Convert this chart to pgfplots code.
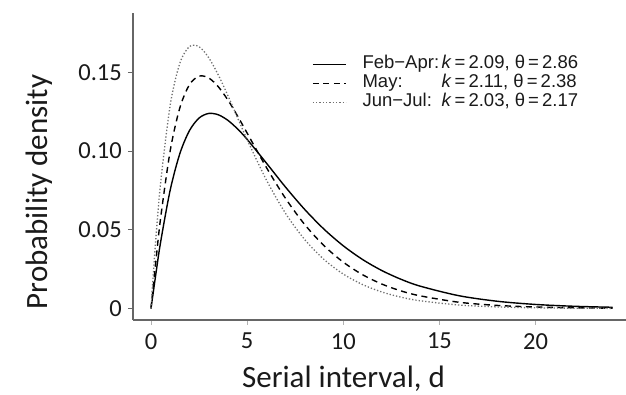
\documentclass[border=0pt]{standalone}
\usepackage{pgfplots}
\pgfplotsset{compat=1.18}
\usepackage{fontspec}
\setmainfont{Carlito}
\newfontfamily\legfont{Liberation Sans}
\definecolor{axgray}{HTML}{666666}
\definecolor{txt}{HTML}{1A1A1A}
\definecolor{dotgray}{HTML}{707070}
\begin{document}
\begin{tikzpicture}
\begin{axis}[
  scale only axis,
  width=493pt, height=307pt,
  xmin=-0.935, xmax=24.7,
  ymin=-0.0073, ymax=0.1877,
  axis lines=left,
  axis line style={-, axgray, line width=1.3pt},
  tick align=outside,
  xtick={0,5,10,15,20}, xticklabels={0,5,10,15,20},
  ytick={0,0.05,0.1,0.15}, yticklabels={0,0.05,0.10,0.15},
  /pgf/number format/assume math mode=true,
  major tick length=5pt,
  y tick style={axgray, line width=1pt},
  x tick style={axgray!50, line width=0.8pt},
  tick label style={font=\fontsize{24.5}{29}\selectfont, text=txt, inner sep=0pt},
  yticklabel style={xshift=-6pt},
  xticklabel style={yshift=-8pt},
  xlabel={Serial interval, d},
  ylabel={Probability density},
  label style={font=\fontsize{31}{36}\selectfont, text=txt},
  xlabel style={at={(axis description cs:0.427,-0.221)}, anchor=base},
  ylabel style={at={(axis description cs:-0.1744,0.417)}, anchor=base},
  legend image code/.code={\draw[#1] (0pt,0pt) -- (33pt,0pt);},
  legend style={at={(axis description cs:0.363,0.862)}, anchor=north west,
    draw=none, fill=none, inner sep=0pt, row sep=1pt,
    font=\legfont\fontsize{18.5}{20}\selectfont,
    nodes={inner sep=0pt, text height=13pt, text depth=5pt, text=txt},
    /tikz/every odd column/.append style={column sep=16pt}},
  legend cell align=left,
]
\addplot[black, line width=1.4pt, smooth] coordinates {
(0,0) (0.25,0.021595) (0.5,0.042122) (1,0.075285) (1.5,0.098338) (2,0.112974)
(2.5,0.120972) (3,0.123899) (3.5,0.123059) (4,0.119509) (4.5,0.114085)
(5,0.107444) (6,0.092392) (7,0.077045) (8,0.062824) (9,0.050353)
(10,0.039816) (11,0.031140) (12,0.024133) (13,0.018564) (14,0.014187)
(16,0.0081551) (18,0.0046077) (20,0.0025680) (22,0.0014160) (24,0.00077368)};
\addlegendentry{\makebox[79pt][l]{Feb−Apr:}\textit{k}\,=\,2.09, θ\,=\,2.86}
\addplot[black, line width=1.4pt, dash pattern=on 6pt off 4.5pt, smooth] coordinates {
(0,0) (0.25,0.029489) (0.5,0.057304) (1,0.100251) (1.5,0.127442) (2,0.142149)
(2.5,0.147597) (3,0.146464) (3.5,0.140865) (4,0.132418) (4.5,0.122317)
(5,0.111440) (6,0.089630) (7,0.069870) (8,0.053234) (9,0.039856)
(10,0.029430) (11,0.021490) (12,0.015550) (13,0.011165) (14,0.0080433)
(16,0.0039859) (18,0.0019603) (20,0.00095099) (22,0.00045622) (24,0.00021685)};
\addlegendentry{\makebox[79pt][l]{May:}\textit{k}\,=\,2.11, θ\,=\,2.38}
\addplot[dotgray, line width=1.3pt, dash pattern=on 1.3pt off 2pt, smooth] coordinates {
(0,0) (0.1,0.018253) (0.25,0.043772) (0.5,0.079656) (1,0.129185) (1.5,0.155783) (2,0.166393)
(2.5,0.166297) (3,0.159359) (3.5,0.148338) (4,0.135184) (4.5,0.121212)
(5,0.107302) (6,0.081664) (7,0.060374) (8,0.043697) (9,0.031118)
(10,0.021876) (11,0.015222) (12,0.010502) (13,0.0071936) (14,0.0048974)
(16,0.0022357) (18,0.0010042) (20,0.00044533) (22,0.00019546) (24,0.000085057)};
\addlegendentry{\makebox[79pt][l]{Jun−Jul:}\textit{k}\,=\,2.03, θ\,=\,2.17}
\coordinate (BL) at (rel axis cs:0,0);
\coordinate (TR) at (rel axis cs:1,1);
\end{axis}
\pgfresetboundingbox
\path ([shift={(-133pt,-75pt)}]BL) rectangle ([shift={(0pt,13pt)}]TR);
\end{tikzpicture}
\end{document}
